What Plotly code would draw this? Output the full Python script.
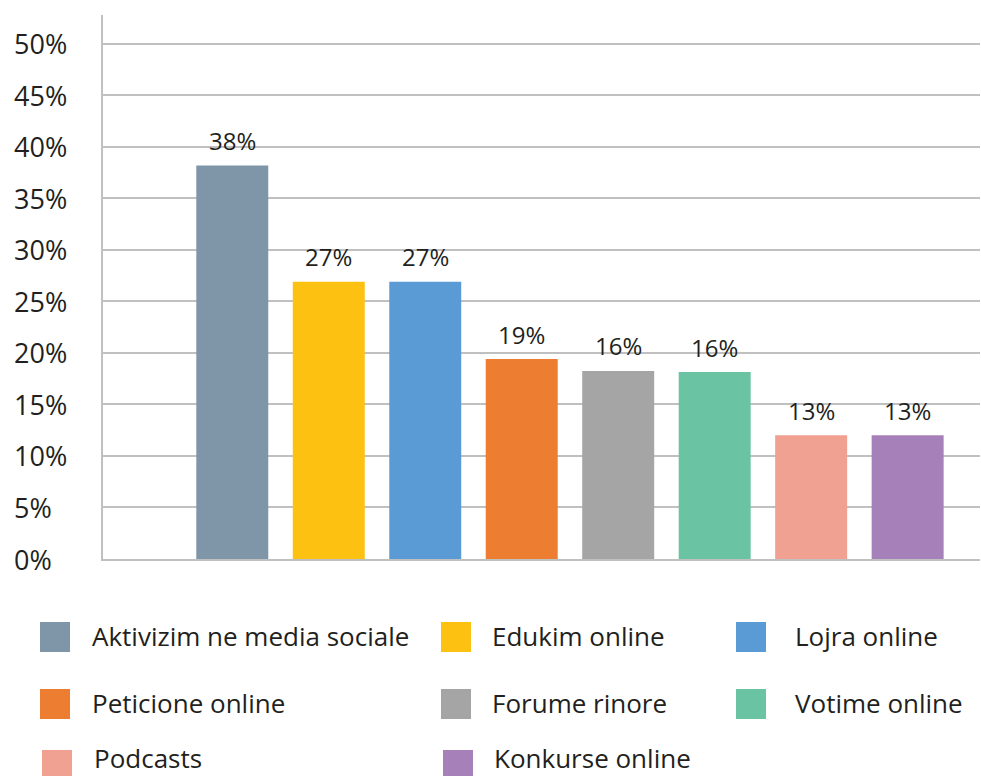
import plotly.graph_objects as go

# values (bar heights) and the labels printed above them
categories = ["Aktivizim ne media sociale", "Edukim online", "Lojra online",
              "Peticione online", "Forume rinore", "Votime online",
              "Podcasts", "Konkurse online"]
values = [38.2, 26.9, 26.9, 19.4, 18.25, 18.15, 12.0, 12.0]
bar_labels = ["38%", "27%", "27%", "19%", "16%", "16%", "13%", "13%"]
colors = ["#7F95A8", "#FCC111", "#5B9BD5", "#ED7D31",
          "#A5A5A5", "#6AC4A3", "#F0A191", "#A680B8"]
tick_vals = [0, 5, 10, 15, 20, 25, 30, 35, 40, 45, 50]
tick_text = ["0%", "5%", "10%", "15%", "20%", "25%", "30%", "35%", "40%", "45%", "50%"]

FONT = "Open Sans"
TXT = "#231F20"
GRID = "#C0C0C0"

# plot area in pixels
L, T, W, H = 103, 15, 877, 544


def px_x(p):
    return (p - L) / W


def px_y(p):
    return (T + H - p) / H


fig = go.Figure()
fig.add_trace(go.Bar(
    x=categories, y=values, marker=dict(color=colors, line=dict(width=0)),
    width=0.746, showlegend=False, hoverinfo="x+y"))

# value labels above the bars
for c, v, t in zip(categories, values, bar_labels):
    fig.add_annotation(x=c, y=v, text=t, yanchor="middle", yshift=25,
                       showarrow=False,
                       font=dict(family=FONT, size=24, color=TXT))

# left aligned y tick labels
for v, t in zip(tick_vals, tick_text):
    fig.add_annotation(x=px_x(12), xref="paper", y=v, yref="y", text=t,
                       xanchor="left", yanchor="middle", showarrow=False,
                       font=dict(family=FONT, size=27, color=TXT))

# legend: 3 columns, 3 rows, big squares
row_sq = [637, 704, 765]
row_txt = [636, 703, 758]
col_sq = [40, 441, 736]
col_txt = [90, 490, 793]
for i, (name, c) in enumerate(zip(categories, colors)):
    r, k = divmod(i, 3)
    dx = 2 if r == 2 else 0  # last row sits a touch to the right
    fig.add_shape(type="rect", xref="paper", yref="paper",
                  x0=px_x(col_sq[k] + dx), x1=px_x(col_sq[k] + dx + 30),
                  y0=px_y(row_sq[r] + 15), y1=px_y(row_sq[r] - 15),
                  fillcolor=c, line=dict(width=0))
    fig.add_annotation(x=px_x(col_txt[k] + dx), xref="paper", y=px_y(row_txt[r]), yref="paper",
                       text=name, xanchor="left", yanchor="middle", showarrow=False,
                       font=dict(family=FONT, size=26, color=TXT))

fig.update_layout(
    width=981, height=776,
    margin=dict(l=L, r=981 - L - W, t=T, b=776 - T - H),
    paper_bgcolor="white", plot_bgcolor="white",
    font=dict(family=FONT, color=TXT),
    xaxis=dict(range=[-1.34, 7.75], showticklabels=False, showgrid=False,
               showline=True, linecolor=GRID, linewidth=2, zeroline=False,
               fixedrange=True),
    yaxis=dict(range=[0, 52.8], tickvals=tick_vals, showticklabels=False,
               showgrid=True, gridcolor=GRID, gridwidth=2,
               showline=True, linecolor=GRID, linewidth=2, zeroline=False,
               fixedrange=True),
)

fig.write_html("out.html", config={"displayModeBar": False},
               post_script="document.body.style.margin='0';")
